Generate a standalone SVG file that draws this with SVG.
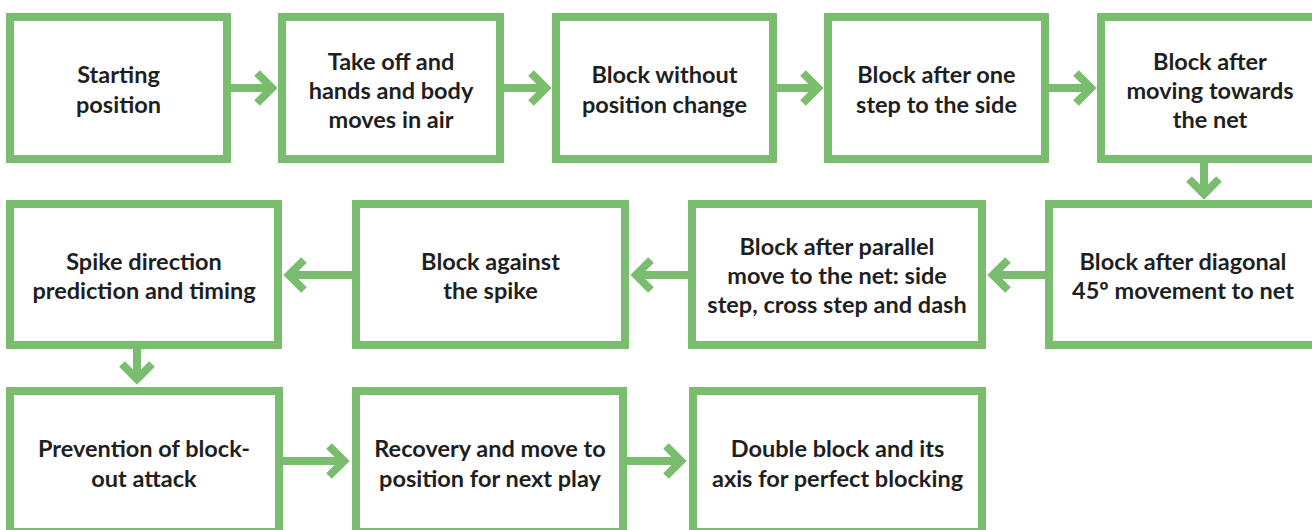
<svg xmlns="http://www.w3.org/2000/svg" width="1312" height="530" viewBox="0 0 1312 530">
  <style>
    .box { fill: #ffffff; stroke: #7bbd6f; stroke-width: 8; }
    .link { fill: none; stroke: #7bbd6f; stroke-width: 8; stroke-linejoin: miter; stroke-miterlimit: 4; }
    .label { font-family: Lato, "Open Sans", "Liberation Sans", sans-serif; font-weight: 700; font-size: 23.5px; fill: #1f1f1f; text-anchor: middle; }
  </style>
  <rect width="1312" height="530" fill="#ffffff"/>

  <!-- connectors -->
  <g id="connectors">
    <!-- row 1, left to right -->
    <path class="link" d="M231 88H272M257 73L272 88L257 103"/>
    <path class="link" d="M504 88H546M531 73L546 88L531 103"/>
    <path class="link" d="M777 88H818M803 73L818 88L803 103"/>
    <path class="link" d="M1049 88H1091M1076 73L1091 88L1076 103"/>
    <!-- down to row 2 -->
    <path class="link" d="M1204 163V194M1189 179L1204 194L1219 179"/>
    <!-- row 2, right to left -->
    <path class="link" d="M1045 275H993M1008 260L993 275L1008 290"/>
    <path class="link" d="M688 275H636M651 260L636 275L651 290"/>
    <path class="link" d="M352 275H289M304 260L289 275L304 290"/>
    <!-- down to row 3 -->
    <path class="link" d="M137 349V379M122 364L137 379L152 364"/>
    <!-- row 3, left to right -->
    <path class="link" d="M283 461H344M329 446L344 461L329 476"/>
    <path class="link" d="M627 461H681M666 446L681 461L666 476"/>
  </g>

  <!-- row 1 -->
  <g id="starting-position">
    <rect class="box" x="10" y="17" width="217" height="142"/>
    <text class="label" x="118.5" y="83">Starting</text>
    <text class="label" x="118.5" y="113">position</text>
  </g>
  <g id="take-off">
    <rect class="box" x="282" y="17" width="218" height="142"/>
    <text class="label" x="391" y="70">Take off and</text>
    <text class="label" x="391" y="99">hands and body</text>
    <text class="label" x="391" y="128">moves in air</text>
  </g>
  <g id="block-no-change">
    <rect class="box" x="556" y="17" width="217" height="142"/>
    <text class="label" x="664.5" y="83">Block without</text>
    <text class="label" x="664.5" y="113">position change</text>
  </g>
  <g id="block-side-step">
    <rect class="box" x="828" y="17" width="217" height="142"/>
    <text class="label" x="936.5" y="83">Block after one</text>
    <text class="label" x="936.5" y="113">step to the side</text>
  </g>
  <g id="block-towards-net">
    <rect class="box" x="1101" y="17" width="218" height="142"/>
    <text class="label" x="1210" y="70">Block after</text>
    <text class="label" x="1210" y="99">moving towards</text>
    <text class="label" x="1210" y="128">the net</text>
  </g>

  <!-- row 2 -->
  <g id="block-diagonal">
    <rect class="box" x="1049" y="204" width="268" height="141"/>
    <text class="label" x="1183" y="270">Block after diagonal</text>
    <text class="label" x="1183" y="299">45º movement to net</text>
  </g>
  <g id="block-parallel">
    <rect class="box" x="692" y="204" width="290" height="141"/>
    <text class="label" x="837" y="255">Block after parallel</text>
    <text class="label" x="837" y="284">move to the net: side</text>
    <text class="label" x="837" y="313">step, cross step and dash</text>
  </g>
  <g id="block-against-spike">
    <rect class="box" x="356" y="204" width="269" height="141"/>
    <text class="label" x="490.5" y="270">Block against</text>
    <text class="label" x="490.5" y="299">the spike</text>
  </g>
  <g id="spike-prediction">
    <rect class="box" x="10" y="204" width="268" height="141"/>
    <text class="label" x="144" y="270">Spike direction</text>
    <text class="label" x="144" y="299">prediction and timing</text>
  </g>

  <!-- row 3 -->
  <g id="prevent-block-out">
    <rect class="box" x="10" y="391" width="269" height="141"/>
    <text class="label" x="144" y="457">Prevention of block-</text>
    <text class="label" x="144" y="487">out attack</text>
  </g>
  <g id="recovery">
    <rect class="box" x="356" y="391" width="267" height="141"/>
    <text class="label" x="490" y="457">Recovery and move to</text>
    <text class="label" x="490" y="487">position for next play</text>
  </g>
  <g id="double-block">
    <rect class="box" x="693" y="391" width="289" height="141"/>
    <text class="label" x="837.5" y="457">Double block and its</text>
    <text class="label" x="837.5" y="487">axis for perfect blocking</text>
  </g>
</svg>
